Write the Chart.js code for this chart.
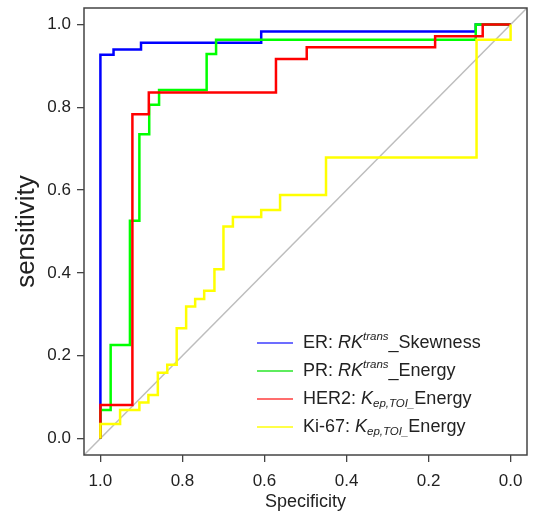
<!DOCTYPE html>
<html>
<head>
<meta charset="utf-8">
<script src="https://cdn.jsdelivr.net/npm/chart.js@4/dist/chart.umd.min.js"></script>
<style>
  html, body { margin: 0; padding: 0; background: #fff; }
  #roc { display: block; }
</style>
</head>
<body>
<canvas id="roc" width="533" height="513"></canvas>
<script>
// ROC curves: specificity (x, reversed) vs sensitivity (y)
const tickValues = [0, 0.2, 0.4, 0.6, 0.8, 1.0];

const erSpec = [1, 1, 0.968, 0.968, 0.901, 0.901, 0.608, 0.608, 0.085, 0.085, 0];
const erSens = [0, 0.927, 0.927, 0.940, 0.940, 0.956, 0.956, 0.983, 0.983, 1, 1];

const prSpec = [1, 1, 0.975, 0.975, 0.928, 0.928, 0.905, 0.905, 0.881, 0.881, 0.857, 0.857, 0.741, 0.741, 0.718, 0.718, 0.085, 0.085, 0];
const prSens = [0, 0.069, 0.069, 0.226, 0.226, 0.526, 0.526, 0.735, 0.735, 0.806, 0.806, 0.842, 0.842, 0.929, 0.929, 0.963, 0.963, 1, 1];

const her2Spec = [1, 1, 0.922, 0.922, 0.882, 0.882, 0.572, 0.572, 0.497, 0.497, 0.184, 0.184, 0.068, 0.068, 0];
const her2Sens = [0, 0.081, 0.081, 0.783, 0.783, 0.836, 0.836, 0.917, 0.917, 0.945, 0.945, 0.972, 0.972, 1, 1];

const ki67Spec = [1, 1, 0.952, 0.952, 0.905, 0.905, 0.883, 0.883, 0.860, 0.860, 0.837, 0.837, 0.814, 0.814,
                  0.791, 0.791, 0.769, 0.769, 0.747, 0.747, 0.722, 0.722, 0.700, 0.700, 0.677, 0.677,
                  0.608, 0.608, 0.562, 0.562, 0.45, 0.45, 0.083, 0.083, 0, 0];
const ki67Sens = [0, 0.035, 0.035, 0.069, 0.069, 0.087, 0.087, 0.105, 0.105, 0.159, 0.159, 0.178, 0.178, 0.266,
                  0.266, 0.319, 0.319, 0.337, 0.337, 0.357, 0.357, 0.409, 0.409, 0.512, 0.512, 0.535,
                  0.535, 0.552, 0.552, 0.588, 0.588, 0.679, 0.679, 0.963, 0.963, 1];

const seriesColors = ['#0000ff', '#00ff00', '#ff0000', '#ffff00'];
const legendColors = ['rgba(60,60,255,0.75)', 'rgba(40,230,40,0.75)', 'rgba(255,60,60,0.75)', 'rgba(255,255,40,0.85)'];

// legend labels: [text, style] pieces (n = normal, i = italic, sup / sub = italic script)
const legendLabels = [
    [['ER: ', 'n'], ['RK', 'i'], ['trans', 'sup'], ['_Skewness', 'n']],
    [['PR: ', 'n'], ['RK', 'i'], ['trans', 'sup'], ['_Energy', 'n']],
    [['HER2: ', 'n'], ['K', 'i'], ['ep,TOI_', 'sub'], ['Energy', 'n']],
    [['Ki-67: ', 'n'], ['K', 'i'], ['ep,TOI_', 'sub'], ['Energy', 'n']]
];

const FONT = '"Liberation Sans", Arial, Helvetica, sans-serif';
const TEXT = '#222';

function toPoints(xs, ys) {
    return xs.map((x, i) => ({ x: x, y: ys[i] }));
}

function curve(label, xs, ys, color, order) {
    return {
        label: label,
        data: toPoints(xs, ys),
        borderColor: color,
        borderWidth: 2.5,
        pointRadius: 0,
        tension: 0,
        fill: false,
        order: order
    };
}

// plot box + custom legend with italic/super/subscript text
const boxAndLegend = {
    id: 'boxAndLegend',
    afterDraw(chart) {
        const ctx = chart.ctx;
        const a = chart.chartArea;
        ctx.save();
        ctx.strokeStyle = '#444';
        ctx.lineWidth = 1.5;
        ctx.strokeRect(a.left, a.top, a.right - a.left, a.bottom - a.top);

        const lineX0 = 257, lineX1 = 293, textX = 303;
        const rowY = [343, 371, 399, 427];
        legendLabels.forEach((parts, k) => {
            const y = rowY[k];
            ctx.strokeStyle = legendColors[k];
            ctx.lineWidth = 2;
            ctx.beginPath();
            ctx.moveTo(lineX0, y);
            ctx.lineTo(lineX1, y);
            ctx.stroke();

            let x = textX;
            ctx.fillStyle = TEXT;
            ctx.textBaseline = 'middle';
            ctx.textAlign = 'left';
            parts.forEach(([txt, style]) => {
                let dy = 0;
                if (style === 'n') ctx.font = '18px ' + FONT;
                else if (style === 'i') ctx.font = 'italic 18px ' + FONT;
                else if (style === 'sup') { ctx.font = 'italic 11.5px ' + FONT; dy = -6; }
                else { ctx.font = 'italic 11.5px ' + FONT; dy = 5; }
                ctx.fillText(txt, x, y + dy);
                x += ctx.measureText(txt).width;
            });
        });
        ctx.restore();
    }
};

new Chart(document.getElementById('roc'), {
    type: 'line',
    data: {
        datasets: [
            {
                label: 'diagonal',
                data: [{ x: 1.04, y: -0.04 }, { x: -0.04, y: 1.04 }],
                borderColor: '#bdbdbd',
                borderWidth: 1.5,
                pointRadius: 0,
                order: 10
            },
            curve('ER', erSpec, erSens, seriesColors[0], 4),
            curve('PR', prSpec, prSens, seriesColors[1], 3),
            curve('HER2', her2Spec, her2Sens, seriesColors[2], 2),
            curve('Ki-67', ki67Spec, ki67Sens, seriesColors[3], 1)
        ]
    },
    options: {
        responsive: false,
        animation: false,
        layout: { padding: { top: 8, right: 6, left: 0, bottom: 0 } },
        plugins: {
            legend: { display: false },
            tooltip: { enabled: false }
        },
        scales: {
            x: {
                type: 'linear',
                reverse: true,
                min: -0.04,
                max: 1.04,
                afterBuildTicks: axis => { axis.ticks = tickValues.map(v => ({ value: v })); },
                afterFit: axis => { axis.height = 58; axis.paddingLeft = 0; axis.paddingRight = 0; },
                grid: { drawOnChartArea: false, drawTicks: true, tickLength: 7, color: '#444', lineWidth: 1.3 },
                border: { display: false },
                ticks: {
                    padding: 9,
                    maxRotation: 0,
                    color: TEXT,
                    font: { family: FONT, size: 17 },
                    callback: v => v.toFixed(1)
                },
                title: {
                    display: true,
                    text: 'Specificity',
                    color: TEXT,
                    font: { family: FONT, size: 18 },
                    padding: { top: 0, bottom: 0 }
                }
            },
            y: {
                type: 'linear',
                min: -0.04,
                max: 1.04,
                afterBuildTicks: axis => { axis.ticks = tickValues.map(v => ({ value: v })); },
                afterFit: axis => { axis.width = 84; axis.paddingTop = 0; axis.paddingBottom = 0; },
                grid: { drawOnChartArea: false, drawTicks: true, tickLength: 7, color: '#444', lineWidth: 1.3 },
                border: { display: false },
                ticks: {
                    padding: 6,
                    color: TEXT,
                    font: { family: FONT, size: 17 },
                    callback: v => v.toFixed(1)
                },
                title: {
                    display: true,
                    text: 'sensitivity',
                    color: TEXT,
                    font: { family: FONT, size: 26 },
                    padding: { top: 11, bottom: 0 }
                }
            }
        }
    },
    plugins: [boxAndLegend]
});
</script>
</body>
</html>
